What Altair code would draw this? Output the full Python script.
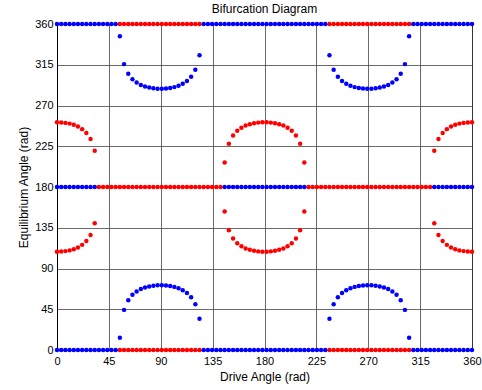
import altair as alt
import pandas as pd

# Drive-angle sample grid (degrees)
DRIVE = [0, 3.64, 7.27, 10.91, 14.55, 18.18, 21.82, 25.45, 29.09, 32.73,
         36.36, 40.00, 43.64, 47.27, 50.91, 54.55, 58.18, 61.82, 65.45, 69.09,
         72.73, 76.36, 80.00, 83.64, 87.27, 90.91, 94.55, 98.18, 101.82, 105.45,
         109.09, 112.73, 116.36, 120.00, 123.64, 127.27, 130.91, 134.55, 138.18, 141.82,
         145.45, 149.09, 152.73, 156.36, 160.00, 163.64, 167.27, 170.91, 174.55, 178.18,
         181.82, 185.45, 189.09, 192.73, 196.36, 200.00, 203.64, 207.27, 210.91, 214.55,
         218.18, 221.82, 225.45, 229.09, 232.73, 236.36, 240.00, 243.64, 247.27, 250.91,
         254.55, 258.18, 261.82, 265.45, 269.09, 272.73, 276.36, 280.00, 283.64, 287.27,
         290.91, 294.55, 298.18, 301.82, 305.45, 309.09, 312.73, 316.36, 320.00, 323.64,
         327.27, 330.91, 334.55, 338.18, 341.82, 345.45, 349.09, 352.73, 356.36, 360.00]

# Colour of the trivial equilibria at 0 / 180 / 360 for each drive sample (B = stable, R = unstable)
LEVEL_0_360 = "B" * 15 + "R" * 20 + "B" * 30 + "R" * 20 + "B" * 15
LEVEL_180 = "B" * 10 + "R" * 30 + "B" * 20 + "R" * 30 + "B" * 10

# Unstable (red) branches
RED_A_LO = [108.5, 108.7, 109.2, 110.0, 111.3, 113.3, 116.1, 120.3, 127.1, 140.0]
RED_A_HI = [251.5, 251.3, 250.8, 250.0, 248.7, 246.7, 243.9, 239.7, 232.9, 220.0]
RED_B_LO = [153.0, 132.3, 123.2, 117.9, 114.5, 112.2, 110.6, 109.6, 108.9, 108.6,
            108.6, 108.9, 109.6, 110.6, 112.2, 114.5, 117.9, 123.2, 132.3, 153.0]
RED_B_HI = [207.0, 227.7, 236.8, 242.1, 245.5, 247.8, 249.4, 250.4, 251.1, 251.4,
            251.4, 251.1, 250.4, 249.4, 247.8, 245.5, 242.1, 236.8, 227.7, 207.0]
RED_C_LO = [140.0, 127.1, 120.3, 116.1, 113.3, 111.3, 110.0, 109.2, 108.7, 108.5]
RED_C_HI = [220.0, 232.9, 239.7, 243.9, 246.7, 248.7, 250.0, 250.8, 251.3, 251.5]

# Stable (blue) branches
BLUE_A_LO = [13.5, 44.3, 55.0, 61.0, 64.7, 67.3, 69.0, 70.2, 71.0, 71.4,
             71.5, 71.2, 70.6, 69.7, 68.2, 66.1, 63.0, 58.3, 50.5, 34.6]
BLUE_A_HI = [346.5, 315.7, 305.0, 299.0, 295.3, 292.7, 291.0, 289.8, 289.0, 288.6,
             288.5, 288.8, 289.4, 290.3, 291.8, 293.9, 297.0, 301.7, 309.5, 325.4]
BLUE_B_LO = [34.6, 50.5, 58.3, 63.0, 66.1, 68.2, 69.7, 70.6, 71.2, 71.5,
             71.4, 71.0, 70.2, 69.0, 67.3, 64.7, 61.0, 55.0, 44.3, 13.5]
BLUE_B_HI = [325.4, 309.5, 301.7, 297.0, 293.9, 291.8, 290.3, 289.4, 288.8, 288.5,
             288.6, 289.0, 289.8, 291.0, 292.7, 295.3, 299.0, 305.0, 315.7, 346.5]

TICKS = [0, 45, 90, 135, 180, 225, 270, 315, 360]

rows = []
for level, codes in ((0, LEVEL_0_360), (180, LEVEL_180), (360, LEVEL_0_360)):
    for xv, c in zip(DRIVE, codes):
        rows.append({"x": xv, "y": level, "c": c})

branches = [
    (0, RED_A_LO, "R"), (0, RED_A_HI, "R"),
    (40, RED_B_LO, "R"), (40, RED_B_HI, "R"),
    (90, RED_C_LO, "R"), (90, RED_C_HI, "R"),
    (15, BLUE_A_LO, "B"), (15, BLUE_A_HI, "B"),
    (65, BLUE_B_LO, "B"), (65, BLUE_B_HI, "B"),
]
for start, vals, c in branches:
    for i, v in enumerate(vals):
        rows.append({"x": DRIVE[start + i], "y": v, "c": c})

df = pd.DataFrame(rows)

FONT = "Liberation Sans"

xscale = alt.Scale(domain=[0, 360], nice=False, zero=False)
yscale = alt.Scale(domain=[0, 360], nice=False, zero=False)

points = alt.Chart(df).mark_circle(size=20, opacity=1).encode(
    x=alt.X("x:Q", scale=xscale,
            axis=alt.Axis(values=TICKS, title="Drive Angle (rad)", labelFlush=False,
                          ticks=False, labelPadding=5, titlePadding=5,
                          format="d")),
    y=alt.Y("y:Q", scale=yscale,
            axis=alt.Axis(values=TICKS, title="Equilibrium Angle (rad)",
                          ticks=False, labelPadding=4, titlePadding=4,
                          format="d")),
    color=alt.Color("c:N", scale=alt.Scale(domain=["B", "R"], range=["#0000ff", "#ff0000"]),
                    legend=None),
)

chart = points.properties(
    width=415, height=326,
    title=alt.TitleParams("Bifurcation Diagram", fontSize=12, fontWeight="normal",
                          font=FONT, color="black", offset=2),
    autosize=alt.AutoSizeParams(type="none"),
    padding={"left": 57, "top": 24, "right": 10, "bottom": 40},
).configure_view(
    stroke="black", strokeWidth=1
).configure_axis(
    labelFont=FONT, titleFont=FONT, labelFontSize=11, titleFontSize=12,
    titleFontWeight="normal", labelColor="black", titleColor="black",
    domainColor="black", gridColor="#444444", gridWidth=0.8, gridOpacity=1,
)

chart.save("out.html", embed_options={"renderer": "svg", "actions": False})
